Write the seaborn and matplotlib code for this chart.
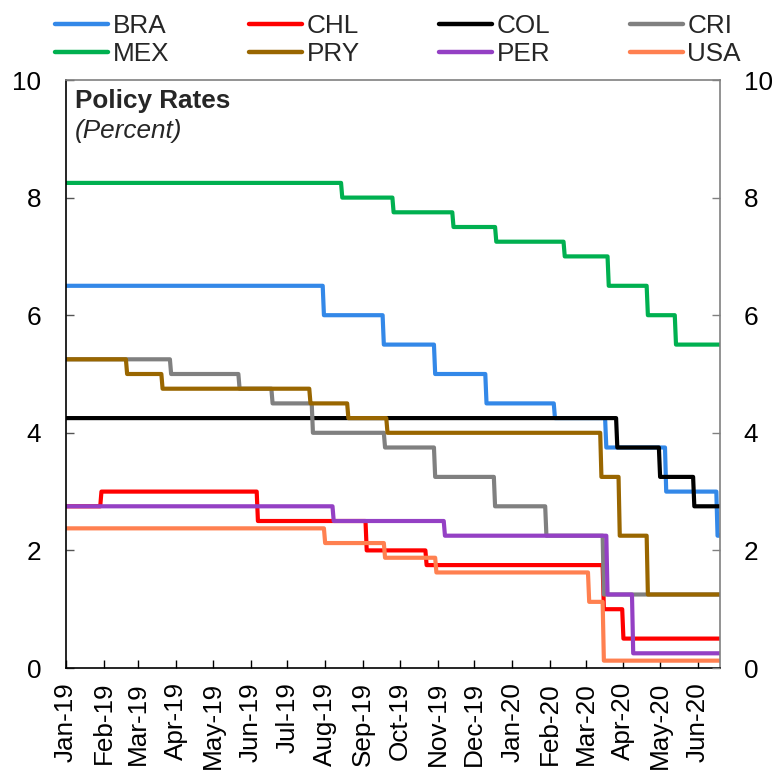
import matplotlib
matplotlib.use("Agg")
import matplotlib.pyplot as plt
import matplotlib.dates as mdates
from matplotlib.lines import Line2D
import numpy as np
import pandas as pd
import seaborn as sns

# Policy rate decisions: first day of each new rate, and the rate (percent)
start_date = "2019-01-01"
end_date = "2020-06-19"

countries = ["BRA", "CHL", "COL", "CRI", "MEX", "PRY", "PER", "USA"]
colors = ["#3388E8", "#FF0000", "#000000", "#808080",
          "#00B050", "#996600", "#9440C4", "#FF8050"]

bra_dates = ["2019-01-01", "2019-07-31", "2019-09-18", "2019-10-30", "2019-12-11",
             "2020-02-05", "2020-03-18", "2020-05-06", "2020-06-17"]
bra_rates = [6.50, 6.00, 5.50, 5.00, 4.50, 4.25, 3.75, 3.00, 2.25]

chl_dates = ["2019-01-01", "2019-01-30", "2019-06-07", "2019-09-04", "2019-10-23",
             "2020-03-16", "2020-04-01"]
chl_rates = [2.75, 3.00, 2.50, 2.00, 1.75, 1.00, 0.50]

col_dates = ["2019-01-01", "2020-03-27", "2020-05-01", "2020-05-29"]
col_rates = [4.25, 3.75, 3.25, 2.75]

cri_dates = ["2019-01-01", "2019-03-28", "2019-05-23", "2019-06-19", "2019-07-22",
             "2019-09-19", "2019-10-30", "2019-12-18", "2020-01-29", "2020-03-16"]
cri_rates = [5.25, 5.00, 4.75, 4.50, 4.00, 3.75, 3.25, 2.75, 2.25, 1.25]

mex_dates = ["2019-01-01", "2019-08-15", "2019-09-26", "2019-11-14", "2019-12-19",
             "2020-02-13", "2020-03-20", "2020-04-21", "2020-05-14"]
mex_rates = [8.25, 8.00, 7.75, 7.50, 7.25, 7.00, 6.50, 6.00, 5.50]

pry_dates = ["2019-01-01", "2019-02-20", "2019-03-21", "2019-07-20", "2019-08-20",
             "2019-09-21", "2020-03-14", "2020-03-29", "2020-04-21"]
pry_rates = [5.25, 5.00, 4.75, 4.50, 4.25, 4.00, 3.25, 2.25, 1.25]

per_dates = ["2019-01-01", "2019-08-08", "2019-11-07", "2020-03-19", "2020-04-09"]
per_rates = [2.75, 2.50, 2.25, 1.25, 0.25]

usa_dates = ["2019-01-01", "2019-08-01", "2019-09-19", "2019-10-31",
             "2020-03-04", "2020-03-16"]
usa_rates = [2.375, 2.125, 1.875, 1.625, 1.125, 0.125]

decisions = {
    "BRA": (bra_dates, bra_rates), "CHL": (chl_dates, chl_rates),
    "COL": (col_dates, col_rates), "CRI": (cri_dates, cri_rates),
    "MEX": (mex_dates, mex_rates), "PRY": (pry_dates, pry_rates),
    "PER": (per_dates, per_rates), "USA": (usa_dates, usa_rates),
}

# Daily series: the rate in effect on each day
days = pd.date_range(start_date, end_date, freq="D")
frames = []
for c in countries:
    d, r = decisions[c]
    idx = np.searchsorted(pd.to_datetime(d).values, days.values, side="right") - 1
    frames.append(pd.DataFrame({"date": days, "rate": np.asarray(r)[idx], "country": c}))
df = pd.concat(frames, ignore_index=True)

sns.set_style("white")
plt.rcParams["font.family"] = ["Liberation Sans", "DejaVu Sans"]
FS = 18.8

fig = plt.figure(figsize=(7.73, 7.71), dpi=100)
W, H = 773, 771
ax = fig.add_axes([66 / W, 1 - 668 / H, (720 - 66) / W, (668 - 80) / H])

sns.lineplot(data=df, x="date", y="rate", hue="country", hue_order=countries,
             palette=colors, estimator=None, errorbar=None, linewidth=3,
             legend=False, ax=ax)

ax.set_xlim(pd.Timestamp(start_date), pd.Timestamp(end_date))
ax.set_ylim(0, 10)
ax.set_yticks(np.arange(0, 11, 2))
ax.set_xlabel("")
ax.set_ylabel("")
ax.xaxis.set_major_locator(mdates.MonthLocator())
ax.xaxis.set_major_formatter(mdates.DateFormatter("%b-%y"))
for lbl in ax.get_xticklabels():
    lbl.set_rotation(90)

ax.tick_params(axis="x", direction="in", length=6, width=1, colors="black",
               labelsize=FS, pad=10, bottom=True)
ax.tick_params(axis="y", direction="in", length=6, width=1, colors="#555555",
               labelcolor="black", labelsize=FS, pad=18, left=True)

for side in ["left", "bottom"]:
    ax.spines[side].set_color("black")
    ax.spines[side].set_linewidth(1.2)
for side in ["top", "right"]:
    ax.spines[side].set_color("#808080")
    ax.spines[side].set_linewidth(1.2)

# Mirrored scale on the right
ax2 = ax.twinx()
ax2.set_ylim(0, 10)
ax2.set_yticks(np.arange(0, 11, 2))
ax2.tick_params(axis="y", direction="in", length=6, width=1, colors="#808080",
                labelcolor="black", labelsize=FS, pad=17, right=True)
for side in ["left", "right", "top", "bottom"]:
    ax2.spines[side].set_visible(False)

fig.text(75 / W, 1 - 108 / H, "Policy Rates", fontsize=FS, fontweight="bold",
         va="baseline", ha="left")
fig.text(75 / W, 1 - 138 / H, "(Percent)", fontsize=FS, fontstyle="italic",
         va="baseline", ha="left")

# Legend filled row by row: reorder for matplotlib's column-major layout
ncol = 4
handles = {c: Line2D([], [], color=col, linewidth=3.2) for c, col in zip(countries, colors)}
order = [countries[r * ncol + k] for k in range(ncol) for r in range(2)]
fig.legend([handles[c] for c in order], order, ncol=ncol, loc="upper left",
           bbox_to_anchor=(55 / W, 1 - 14 / H), frameon=False, fontsize=FS,
           handlelength=2.03, handletextpad=0.19, columnspacing=3.03,
           labelspacing=0.16, borderpad=0, borderaxespad=0)

fig.savefig("out.png", dpi=100)
